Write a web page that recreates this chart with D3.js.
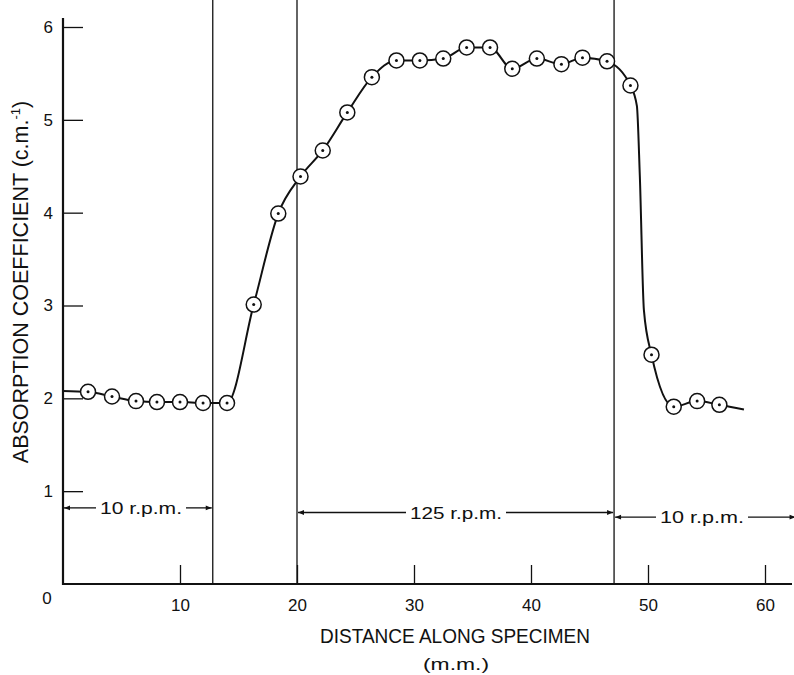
<!DOCTYPE html>
<html>
<head>
<meta charset="utf-8">
<script src="https://cdn.jsdelivr.net/npm/d3@7"></script>
<style>
  html, body { margin: 0; padding: 0; background: #fff; }
  svg { display: block; }
  text { font-family: "Liberation Sans", Arial, Helvetica, sans-serif; fill: #111; }
</style>
</head>
<body>
<svg id="chart" width="794" height="675"></svg>
<script>
// ---- data ----
const pointX = [2.14, 4.19, 6.24, 8.03, 10.0, 11.97, 14.02, 16.3, 18.4, 20.3, 22.2, 24.3, 26.4, 28.5,
                30.5, 32.5, 34.5, 36.5, 38.4, 40.5, 42.6, 44.4, 46.5, 48.5, 50.3, 52.2, 54.2, 56.1];
const pointY = [2.07, 2.02, 1.97, 1.96, 1.96, 1.95, 1.95, 3.01, 3.99, 4.39, 4.67, 5.08, 5.46, 5.64,
                5.64, 5.66, 5.78, 5.78, 5.55, 5.66, 5.60, 5.67, 5.63, 5.37, 2.47, 1.91, 1.97, 1.93];
// extra points (line only, no marker)
const traceX = [0, 49.05, 49.3, 49.65, 58.2];
const traceY = [2.08, 5.15, 4.4, 2.95, 1.88];

const xTicks = [0, 10, 20, 30, 40, 50, 60];
const yTicks = [0, 1, 2, 3, 4, 5, 6];
const boundaries = [12.8, 20, 47.1];          // vertical divider lines (mm)
const regionLabels = ["10 r.p.m.", "125 r.p.m.", "10 r.p.m."];
const regionFrom = [0, 20, 47.1];
const regionTo = [12.8, 47.1, 62.7];
const regionLevel = [0.82, 0.77, 0.72];
const xTitle = "DISTANCE ALONG SPECIMEN";
const xUnit = "(m.m.)";
const yTitle = "ABSORPTION COEFFICIENT (c.m.";

// ---- layout ----
const svg = d3.select("#chart");
const x0 = 63, y0 = 584;
const x = d3.scaleLinear().domain([0, 60]).range([x0, 765]);
const y = d3.scaleLinear().domain([0, 6]).range([y0, 27]);

// vertical divider lines
svg.selectAll("line.div").data(boundaries).join("line")
  .attr("class", "div")
  .attr("x1", d => x(d)).attr("x2", d => x(d))
  .attr("y1", 0).attr("y2", y0)
  .attr("stroke", "#111").attr("stroke-width", 1.3);

// axes
const xAxis = d3.axisBottom(x).tickValues(xTicks.filter(d => d > 0)).tickSize(0).tickPadding(0).tickFormat(d3.format("d"));
const gx = svg.append("g").attr("transform", `translate(0,${y0})`).call(xAxis);
gx.select(".domain").remove();
gx.append("line").attr("x1", x0 - 1).attr("x2", 792).attr("y1", 0).attr("y2", 0)
  .attr("stroke", "#111").attr("stroke-width", 2.2);
gx.selectAll(".tick").append("line").attr("y1", 0).attr("y2", -19)
  .attr("stroke", "#111").attr("stroke-width", 1.3);
gx.selectAll(".tick text").attr("font-size", 17).attr("fill", "#111").attr("y", 15).attr("dy", "0.71em");

const yAxis = d3.axisLeft(y).tickValues(yTicks.filter(d => d > 0)).tickSize(0).tickPadding(0).tickFormat(d3.format("d"));
const gy = svg.append("g").attr("transform", `translate(${x0},0)`).call(yAxis);
gy.select(".domain").remove();
gy.append("line").attr("x1", 0).attr("x2", 0).attr("y1", 18).attr("y2", y0 + 1)
  .attr("stroke", "#111").attr("stroke-width", 2.2);
gy.selectAll(".tick").append("line").attr("x1", 0).attr("x2", 20).attr("stroke", "#111").attr("stroke-width", 1.3);
gy.selectAll(".tick text").attr("font-size", 17).attr("fill", "#111").attr("x", -10);

// origin label
svg.append("text").attr("x", 47).attr("y", 604).attr("text-anchor", "middle").attr("font-size", 17).text("0");

// axis titles
svg.append("text").attr("x", 455).attr("y", 643).attr("text-anchor", "middle")
  .attr("font-size", 19.5).attr("textLength", 270).attr("lengthAdjust", "spacingAndGlyphs").text(xTitle);
svg.append("text").attr("x", 456).attr("y", 670).attr("text-anchor", "middle")
  .attr("font-size", 17).attr("textLength", 66).attr("lengthAdjust", "spacingAndGlyphs").text(xUnit);
const yt = svg.append("text").attr("transform", "translate(28,282) rotate(-90)")
  .attr("text-anchor", "middle").attr("font-size", 21.5);
yt.append("tspan").text(yTitle);
yt.append("tspan").attr("font-size", 13).attr("dy", -8).text("-1");
yt.append("tspan").attr("dy", 8).text(")");

// curve
const linePts = pointX.map((d, i) => [d, pointY[i]])
  .concat(traceX.map((d, i) => [d, traceY[i]]))
  .sort((a, b) => a[0] - b[0]);
const line = d3.line().x(d => x(d[0])).y(d => y(d[1])).curve(d3.curveMonotoneX);
svg.append("path").datum(linePts).attr("d", line)
  .attr("fill", "none").attr("stroke", "#111").attr("stroke-width", 2);

// markers
const pts = pointX.map((d, i) => ({ x: d, y: pointY[i] }));
svg.selectAll("circle.pt").data(pts).join("circle").attr("class", "pt")
  .attr("cx", d => x(d.x)).attr("cy", d => y(d.y)).attr("r", 7.5)
  .attr("fill", "#fff").attr("stroke", "#111").attr("stroke-width", 1.5);
svg.selectAll("circle.dot").data(pts).join("circle").attr("class", "dot")
  .attr("cx", d => x(d.x)).attr("cy", d => y(d.y)).attr("r", 1.5).attr("fill", "#111");

// region annotations (double-headed arrows with text)
svg.append("defs").html(`
  <marker id="ah" viewBox="0 0 10 10" refX="10" refY="5" markerWidth="10" markerHeight="6" orient="auto-start-reverse" markerUnits="userSpaceOnUse">
    <path d="M0,1 L10,5 L0,9 Z" fill="#111"/>
  </marker>`);
const labelWidth = [82, 92, 84];
const labelCenter = [141, 456, 702];
regionLabels.forEach((lab, i) => {
  const a = x(regionFrom[i]), b = x(regionTo[i]);
  const ay = y(regionLevel[i]);
  svg.append("text").attr("x", labelCenter[i]).attr("y", ay + 6)
    .attr("text-anchor", "middle").attr("font-size", 17)
    .attr("textLength", labelWidth[i]).attr("lengthAdjust", "spacingAndGlyphs").text(lab);
  const left = labelCenter[i] - labelWidth[i] / 2, right = labelCenter[i] + labelWidth[i] / 2;
  svg.append("line").attr("x1", left - 4).attr("x2", a + 1).attr("y1", ay).attr("y2", ay)
    .attr("stroke", "#111").attr("stroke-width", 1.3).attr("marker-end", "url(#ah)");
  svg.append("line").attr("x1", right + 4).attr("x2", b - 1).attr("y1", ay).attr("y2", ay)
    .attr("stroke", "#111").attr("stroke-width", 1.3).attr("marker-end", "url(#ah)");
});
</script>
</body>
</html>
